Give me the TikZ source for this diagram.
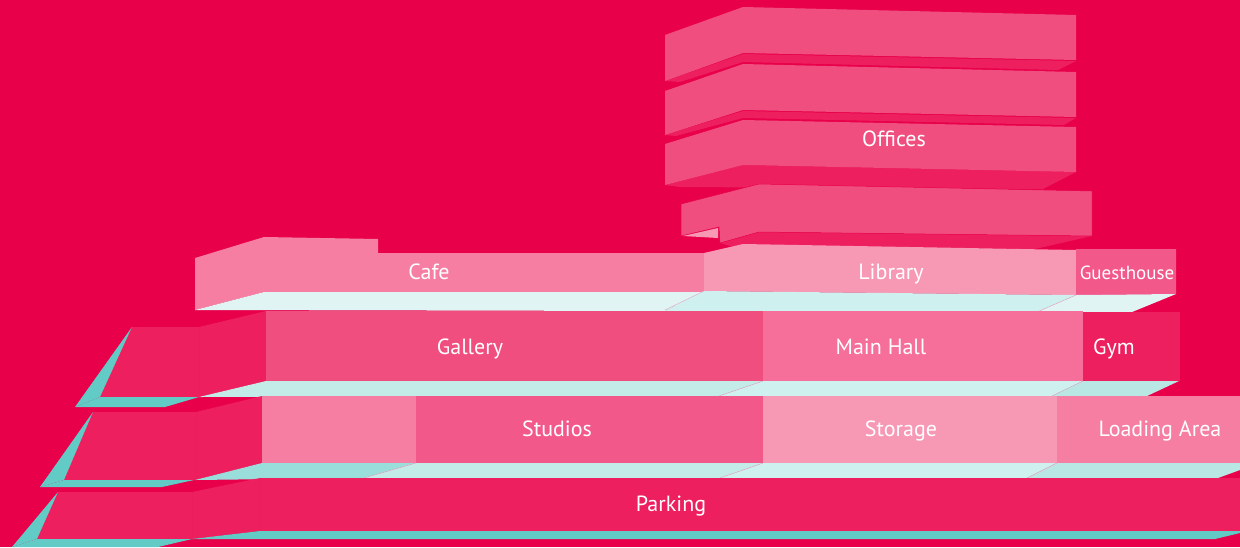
\documentclass[tikz,border=0pt]{standalone}
\usepackage{fontspec}
\setmainfont{PT Sans}
\definecolor{backred}{HTML}{E8004B}
\definecolor{darkrose}{HTML}{ED1F5F}
\definecolor{midrose}{HTML}{F14E80}
\definecolor{studiorose}{HTML}{F2588A}
\definecolor{hallrose}{HTML}{F56F9A}
\definecolor{softrose}{HTML}{F57EA2}
\definecolor{palerose}{HTML}{F798B5}
\definecolor{tealfull}{HTML}{62CBC6}
\definecolor{tealmid}{HTML}{9ADEDB}
\definecolor{tealsoft}{HTML}{C3EBE8}
\definecolor{tealpale}{HTML}{CEF0EE}
\definecolor{tealwhite}{HTML}{E0F5F3}
\definecolor{seamline}{HTML}{DDB0C8}
\tikzset{
  room/.style={font=\fontsize{22}{26}\selectfont, text=white, inner sep=0pt, anchor=base},
  seam/.style={seamline, line width=0.5pt},
  edge/.style={darkrose!90!backred, line width=0.3pt}
}
\begin{document}
\begin{tikzpicture}[x=1pt, y=-1pt]
            \fill[backred] (0,0) rectangle (1240,547);
            \useasboundingbox (0,0) rectangle (1240,547);
            % offices
            \fill[darkrose] (665,81)--(743,54)--(1076,61)--(1058,70)--(743,62)--(680,82)--cycle;
            \fill[midrose] (665,35)--(743,7)--(1076,15)--(1076,60)--(743,53)--(665,81)--cycle;
            \fill[darkrose] (665,135)--(743,111)--(1076,118)--(1064,125)--(743,118)--(676,136)--cycle;
            \fill[midrose] (665,91)--(743,64)--(1076,72)--(1076,117)--(743,110)--(665,135)--cycle;
            \fill[darkrose] (665,185)--(743,165)--(1076,172)--(1043,189)--(680,187)--cycle;
            \fill[midrose] (665,144)--(743,120)--(1076,127)--(1076,172)--(743,165)--(665,185)--cycle;
            \fill[darkrose] (720,243)--(759,232)--(1092,236)--(1035,249)--(730,246)--cycle;
            \filldraw[midrose, draw=backred, line width=0.5pt] (681,204)--(759,184)--(1092,191)--(1092,236)--(759,232)--(720,243)--(719,227)--(681,236)--cycle;
            \fill[palerose] (683,236)--(718,228)--(718,238)--cycle;
            % cafe, library, guesthouse
            \fill[softrose] (195,258)--(264,237)--(378,239)--(378,253)--(704,253)--(704,292)--(264,292)--(195,310)--cycle;
            \fill[palerose] (704,253)--(743,244)--(1076,250)--(1076,295)--(704,291)--cycle;
            \fill[studiorose] (1076,249)--(1176,249)--(1176,294)--(1076,295)--cycle;
            \fill[tealwhite] (195,310)--(264,292)--(704,292)--(665,311)--cycle;
            \fill[tealpale] (665,311)--(704,291)--(1076,295)--(1037,312)--cycle;
            \fill[tealwhite] (1037,312)--(1076,295)--(1176,294)--(1132,312)--cycle;
            \draw[seam] (665,310)--(704,291);
            \draw[seam] (1037,312)--(1076,295);
            % gallery row
            \fill[darkrose] (132,327)--(199,327)--(266,311)--(266,381)--(199,397)--(100,397)--cycle;
            \fill[tealfull] (132,327)--(100,397)--(75,407)--cycle;
            \fill[tealfull] (75,407)--(100,397)--(199,397)--(165,407)--cycle;
            \draw[edge] (199,327)--(199,397);
            \fill[midrose] (266,311) rectangle (763,381);
            \fill[hallrose] (763,311) rectangle (1083,381);
            \fill[darkrose] (1083,312) rectangle (1180,381);
            \fill[tealsoft] (199,397)--(266,381)--(763,381)--(719,396)--cycle;
            \fill[tealpale] (719,396)--(763,381)--(1083,381)--(1052,396)--cycle;
            \fill[tealsoft!90!tealfull] (1052,396)--(1083,381)--(1179,381)--(1147,396)--cycle;
            \draw[seam] (719,396)--(763,381);
            \draw[seam] (1052,396)--(1083,381);
            % studios row
            \fill[darkrose] (93,412)--(196,412)--(262,396)--(262,463)--(195,480)--(64,480)--cycle;
            \fill[tealfull] (93,412)--(64,480)--(40,487)--cycle;
            \fill[tealfull] (40,487)--(64,480)--(194,480)--(162,487)--cycle;
            \draw[edge] (196,412)--(196,480);
            \fill[softrose] (262,396) rectangle (416,463);
            \fill[studiorose] (416,396) rectangle (763,463);
            \fill[palerose] (763,396) rectangle (1057,463);
            \fill[softrose] (1057,396) rectangle (1240,463);
            \fill[tealmid] (195,480)--(262,463)--(416,463)--(364,478)--cycle;
            \fill[tealsoft] (364,478)--(416,463)--(763,463)--(720,478)--cycle;
            \fill[tealpale] (720,478)--(763,463)--(1057,463)--(1027,478)--cycle;
            \fill[tealsoft!90!tealfull] (1027,478)--(1057,463)--(1240,463)--(1240,470)--(1218,478)--cycle;
            \draw[seam] (364,478)--(416,463);
            \draw[seam] (720,478)--(763,463);
            \draw[seam] (1027,478)--(1057,463);
            % parking row
            \fill[darkrose] (58,492)--(192,492)--(260,478)--(260,531)--(192,539)--(37,539)--cycle;
            \fill[tealfull] (58,492)--(37,539)--(12,547)--cycle;
            \fill[tealfull] (12,547)--(37,539)--(192,539)--(158,547)--cycle;
            \draw[edge] (192,492)--(192,539);
            \fill[darkrose] (260,478) rectangle (1240,531);
            \draw[edge] (260,478)--(260,531);
            \fill[tealfull] (192,539)--(260,531)--(1240,531)--(1240,533)--(1215,539)--cycle;
            % labels
            \node[room] (offices) at (894,146) {Offices};
            \node[room] (cafe) at (429,279) {Cafe};
            \node[room] (library) at (891,279) {Library};
            \node[room, font=\fontsize{19}{24}\selectfont] (guesthouse) at (1127,279) {Guesthouse};
            \node[room] (gallery) at (470,354) {Gallery};
            \node[room] (mainhall) at (881,354) {Main Hall};
            \node[room] (gym) at (1114,354) {Gym};
            \node[room] (studios) at (557,436) {Studios};
            \node[room] (storage) at (901,436) {Storage};
            \node[room] (loading) at (1160,436) {Loading Area};
            \node[room] (parking) at (671,511) {Parking};
        \end{tikzpicture}
\end{document}
